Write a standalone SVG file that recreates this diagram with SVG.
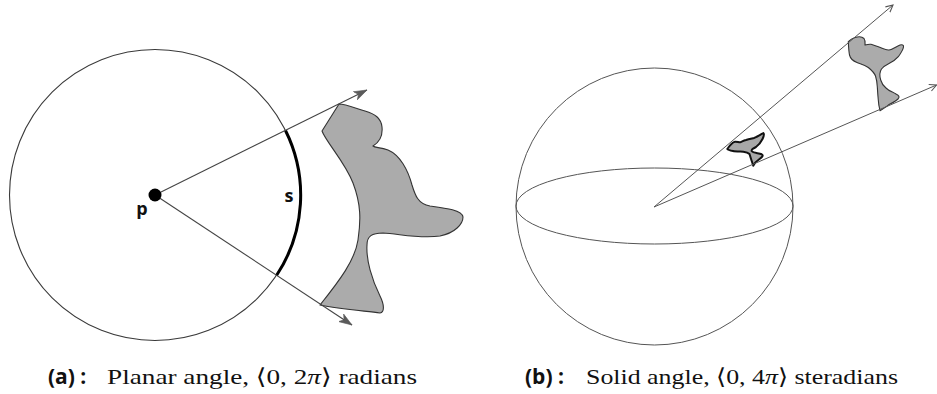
<svg xmlns="http://www.w3.org/2000/svg" width="937" height="394" viewBox="0 0 937 394">
<style>
.thin{fill:none;stroke:#3a3a3a;stroke-width:1.1}
.ray{fill:none;stroke:#444;stroke-width:1.1}
.ray2{fill:none;stroke:#555;stroke-width:1}
.blob{fill:#ababab;stroke:#333;stroke-width:1.1;stroke-linejoin:round}
.blobb{fill:#a8a8a8;stroke:#111;stroke-width:2;stroke-linejoin:round}
.lbl{font-family:"Open Sans","DejaVu Sans",sans-serif;font-weight:bold;fill:#111}
.cap{font-family:"Liberation Serif","DejaVu Serif",serif;fill:#111}
.capb{font-family:"Open Sans","DejaVu Sans",sans-serif;font-weight:bold;fill:#111}
</style>
<defs>
<marker id="stealth" markerUnits="userSpaceOnUse" markerWidth="14" markerHeight="10" refX="13" refY="5" orient="auto">
<path d="M0,0.5 L13,5 L0,9.5 L3.5,5 Z" fill="#5a5a5a" stroke="#5a5a5a" stroke-width="0.6" stroke-linejoin="round"/>
</marker>
<marker id="vhead" markerUnits="userSpaceOnUse" markerWidth="10" markerHeight="10" refX="7.5" refY="4" orient="auto">
<path d="M0.5,0.5 L7.5,4 L0.5,7.5" fill="none" stroke="#555" stroke-width="1.1"/>
</marker>
</defs>

<g id="figure-a">
<g id="circle-a"><circle cx="155" cy="195" r="145.5" class="thin"/></g>
<g id="arc-s"><path d="M285.5,130.5 A145.5,145.5 0 0 1 276.5,275.5" fill="none" stroke="#000" stroke-width="3"/>
<text class="lbl" x="289" y="202" font-size="18" text-anchor="middle">s</text></g>
<g id="blob-a"><path class="blob" d="M339,104 L322,131 C326,142 345,162 353,183 S361,220 358,240 S340,280 320,305 C340,309 365,311 380,313 C385,312 384,304 380,296 C372,280 366,260 367,245 C367,236 372,233 383,233 C400,234 420,239 440,236 C455,233 463,224 463,217 C462,210 445,208 430,206 C418,204 415,195 412,185 C408,170 400,155 388,150 C380,147 375,148 373,146 C378,143 383,137 382,127 C381,118 375,114 365,111 C355,108 345,104 339,104 Z"/></g>
<g id="connectors-a">
<line class="ray" x1="155" y1="195" x2="367" y2="90" marker-end="url(#stealth)"/>
<line class="ray" x1="155" y1="195" x2="352" y2="325" marker-end="url(#stealth)"/>
</g>
<g id="point-p"><circle cx="155" cy="195" r="6.5" fill="#000"/>
<text class="lbl" x="142" y="215" font-size="18" text-anchor="middle">p</text></g>
<g id="caption-a">
<text class="capb" x="48" y="384" font-size="21">(a) :</text>
<text class="cap" x="107" y="384" font-size="22" textLength="310" lengthAdjust="spacingAndGlyphs">Planar angle, ⟨0, 2<tspan font-style="italic">π</tspan>⟩ radians</text>
</g>
</g>

<g id="figure-b">
<g id="sphere"><circle cx="654.5" cy="206.5" r="138.5" class="ray2"/>
<ellipse cx="654.5" cy="206" rx="138.5" ry="38" class="ray2"/></g>
<g id="blob-small"><path class="blobb" d="M727.3,149 C730,145 733,142 735,141.7 C737,141.5 739,142.5 740,142.3 C742,141.5 744,140.5 746,140 C749,139 752,138.5 754,138 C757,137 760,135 763.3,133 C764.5,134 763.5,137 762.5,139 C761,142 759,145 756,147 C753,148.5 751,149.5 751.7,151 C753,153 758,153 761.7,154.3 C764,155.5 762,157.5 758.3,160 C756,161.5 754,163.5 753.3,165.7 C752,162 751,159 749.5,154 C748,152.5 746,152 743.3,151.7 C739,151.5 735,151.5 733,151 C730,150.5 728,150 727.3,149 Z"/></g>
<g id="blob-b"><path class="blob" d="M848.3,41.7 C850,40 852,38.5 855,37.5 C858,36.5 862,36.5 864,38.5 C865.5,40.5 865,43 865,45 C867,44.5 869,44 871,44.3 C874,45 876,46 879,47 C883,48.5 886,50.5 889,50 C893,49.5 897,46 900,45 C902,44.5 904,45 903.5,47 C903,50 901,53 898.3,56.7 C896,59.5 893,61.5 889,63.5 C886,65 883,67 881.5,69 C879.5,72 879.5,76 880.7,80 C881.5,83 883,85.5 886,88 C889,91 893,92 896,94 C899,95.5 900,97 898,99 C896,101 893,102.5 890,104 C887,106 884,108.5 880,110.7 C879,107 878.5,104 878.3,100 C877.8,95 877.5,90 877.3,86.7 C877,82 876.5,79 875.5,76 C874.5,73 872,70.5 868.3,67.5 C865,65 861,64 857,62.5 C853,61 850.5,59 849.5,55 C848.7,51 848.5,46 848.3,41.7 Z"/></g>
<g id="connectors-b">
<line class="ray2" x1="654" y1="207" x2="893" y2="5" marker-end="url(#vhead)"/>
<line class="ray2" x1="654" y1="207" x2="936.5" y2="85" marker-end="url(#vhead)"/>
</g>
<g id="caption-b">
<text class="capb" x="525" y="384" font-size="21">(b) :</text>
<text class="cap" x="586" y="384" font-size="22" textLength="312" lengthAdjust="spacingAndGlyphs">Solid angle, ⟨0, 4<tspan font-style="italic">π</tspan>⟩ steradians</text>
</g>
</g>
</svg>
